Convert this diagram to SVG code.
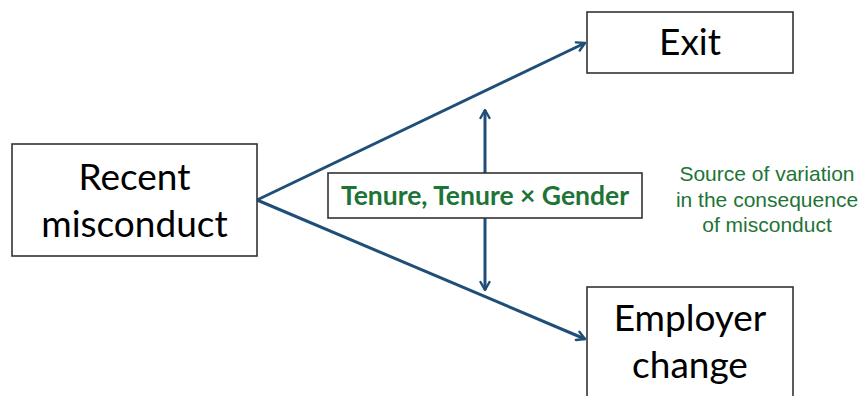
<svg xmlns="http://www.w3.org/2000/svg" width="867" height="396" viewBox="0 0 867 396">
  <style>
    .box { fill: #ffffff; stroke: #333333; stroke-width: 1.6; }
    .big { font-family: Lato, "Liberation Sans", sans-serif; font-size: 37px; fill: #000000; text-anchor: middle; }
    .mod { font-family: Lato, "Liberation Sans", sans-serif; font-size: 26.5px; font-weight: bold; fill: #1e7436; text-anchor: middle; }
    .note { font-family: "Liberation Sans", Arial, sans-serif; font-size: 21px; fill: #1e7436; text-anchor: middle; }
    .link { fill: none; stroke: #1f4e79; stroke-width: 3; }
  </style>
  <defs>
    <marker id="head" viewBox="0 0 12 12" refX="10" refY="6" markerWidth="12" markerHeight="12" markerUnits="userSpaceOnUse" orient="auto">
      <path d="M2,1.5 L10,6 L2,10.5" fill="none" stroke="#1f4e79" stroke-width="2.4" stroke-linecap="round" stroke-linejoin="round"/>
    </marker>
  </defs>
  <rect width="867" height="396" fill="#ffffff"/>

  <g id="connectors">
    <line class="link" x1="257" y1="200" x2="585" y2="43" marker-end="url(#head)"/>
    <line class="link" x1="257" y1="200" x2="585" y2="339" marker-end="url(#head)"/>
    <line class="link" x1="485" y1="173" x2="485" y2="110" marker-end="url(#head)"/>
    <line class="link" x1="485" y1="218" x2="485" y2="290" marker-end="url(#head)"/>
  </g>

  <g id="recent-misconduct">
    <rect class="box" x="12" y="144" width="245" height="112"/>
    <text class="big" x="134.5" y="190">Recent</text>
    <text class="big" x="134.5" y="237">misconduct</text>
  </g>

  <g id="exit">
    <rect class="box" x="587" y="12" width="206" height="61"/>
    <text class="big" x="690" y="55">Exit</text>
  </g>

  <g id="employer-change">
    <rect class="box" x="587" y="287" width="206" height="120"/>
    <text class="big" x="690" y="331">Employer</text>
    <text class="big" x="690" y="378">change</text>
  </g>

  <g id="moderator">
    <rect class="box" x="328" y="173" width="314" height="45"/>
    <text class="mod" x="485" y="205">Tenure, Tenure × Gender</text>
  </g>

  <g id="note">
    <text class="note" x="767" y="181">Source of variation</text>
    <text class="note" x="767" y="207">in the consequence</text>
    <text class="note" x="767" y="232">of misconduct</text>
  </g>
</svg>
